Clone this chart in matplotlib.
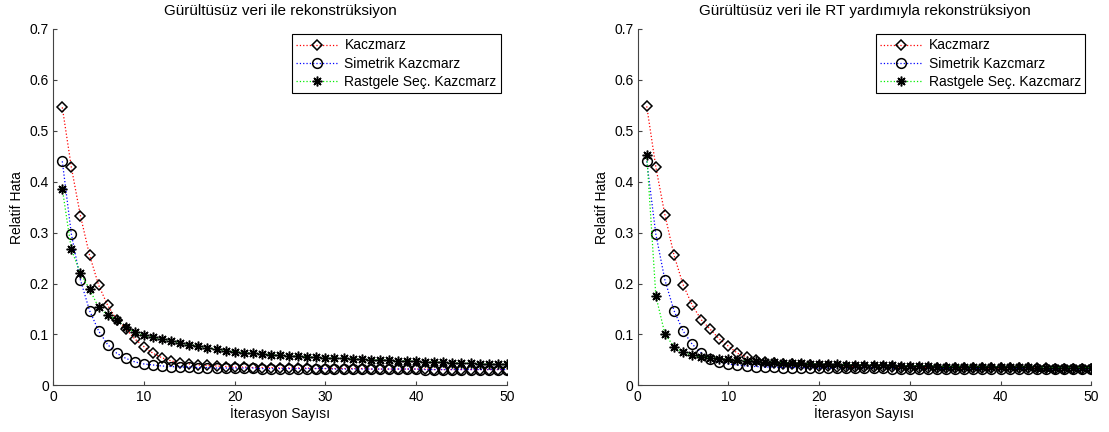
import numpy as np
import matplotlib
matplotlib.use("Agg")
import matplotlib.pyplot as plt

plt.rcParams['font.family'] = ['Liberation Sans', 'DejaVu Sans']
plt.rcParams['font.size'] = 10

iterasyon = np.arange(1, 51)

# sol grafik: gurultusuz veri
kacz_1 = [0.546, 0.428, 0.333, 0.256, 0.197, 0.157, 0.129, 0.111, 0.091, 0.076,
          0.063, 0.054, 0.048, 0.044, 0.042, 0.040, 0.039, 0.038, 0.037, 0.036,
          0.036, 0.035, 0.035, 0.035, 0.034, 0.034, 0.034, 0.034, 0.033, 0.033,
          0.033, 0.033, 0.033, 0.033, 0.032, 0.032, 0.032, 0.032, 0.032, 0.032,
          0.032, 0.031, 0.031, 0.031, 0.031, 0.031, 0.031, 0.031, 0.031, 0.031]
sim_1 = [0.440, 0.297, 0.207, 0.147, 0.107, 0.080, 0.063, 0.053, 0.046, 0.042,
         0.040, 0.038, 0.037, 0.036, 0.036, 0.035, 0.035, 0.034, 0.034, 0.034,
         0.034, 0.034, 0.033, 0.033, 0.033, 0.033, 0.033, 0.033, 0.033, 0.033,
         0.032, 0.032, 0.032, 0.032, 0.032, 0.032, 0.032, 0.032, 0.032, 0.032,
         0.031, 0.031, 0.031, 0.031, 0.031, 0.031, 0.031, 0.031, 0.031, 0.031]
rast_1 = [0.386, 0.267, 0.220, 0.189, 0.153, 0.138, 0.129, 0.114, 0.104, 0.098,
          0.094, 0.091, 0.088, 0.083, 0.080, 0.077, 0.074, 0.071, 0.068, 0.066,
          0.064, 0.063, 0.062, 0.060, 0.059, 0.058, 0.057, 0.056, 0.055, 0.054,
          0.053, 0.053, 0.052, 0.051, 0.050, 0.050, 0.049, 0.048, 0.048, 0.047,
          0.046, 0.046, 0.045, 0.044, 0.044, 0.043, 0.042, 0.042, 0.041, 0.041]

# sag grafik: RT yardimiyla
kacz_2 = [0.548, 0.429, 0.335, 0.256, 0.198, 0.158, 0.129, 0.110, 0.091, 0.077,
          0.063, 0.056, 0.049, 0.046, 0.044, 0.042, 0.041, 0.040, 0.039, 0.038,
          0.038, 0.037, 0.037, 0.037, 0.036, 0.036, 0.036, 0.036, 0.035, 0.035,
          0.035, 0.035, 0.035, 0.035, 0.035, 0.034, 0.034, 0.034, 0.034, 0.034,
          0.034, 0.034, 0.034, 0.034, 0.034, 0.033, 0.033, 0.033, 0.033, 0.033]
sim_2 = [0.440, 0.297, 0.207, 0.147, 0.107, 0.081, 0.064, 0.052, 0.046, 0.042,
         0.040, 0.038, 0.037, 0.036, 0.036, 0.035, 0.035, 0.035, 0.034, 0.034,
         0.034, 0.034, 0.034, 0.034, 0.034, 0.034, 0.034, 0.033, 0.033, 0.033,
         0.033, 0.033, 0.033, 0.033, 0.033, 0.033, 0.033, 0.033, 0.033, 0.033,
         0.033, 0.033, 0.033, 0.033, 0.033, 0.032, 0.032, 0.032, 0.032, 0.032]
rast_2 = [0.453, 0.176, 0.101, 0.076, 0.065, 0.059, 0.056, 0.054, 0.052, 0.051,
          0.049, 0.048, 0.047, 0.046, 0.045, 0.044, 0.043, 0.043, 0.042, 0.042,
          0.041, 0.041, 0.040, 0.040, 0.040, 0.039, 0.039, 0.039, 0.038, 0.038,
          0.038, 0.038, 0.037, 0.037, 0.037, 0.037, 0.037, 0.036, 0.036, 0.036,
          0.036, 0.036, 0.036, 0.035, 0.035, 0.035, 0.035, 0.035, 0.035, 0.035]

etiketler = ["Kaczmarz", "Simetrik Kazcmarz", "Rastgele Seç. Kazcmarz"]
basliklar = ["Gürültüsüz veri ile rekonstrüksiyon",
             "Gürültüsüz veri ile RT yardımıyla rekonstrüksiyon"]


def ciz(ax, k, s, r, baslik):
    ax.plot(iterasyon, k, ':', color='red', lw=0.9, marker='D', ms=5.5,
            mfc='none', mec='black', mew=1.1, label=etiketler[0])
    ax.plot(iterasyon, s, ':', color='blue', lw=0.9, marker='o', ms=7,
            mfc='none', mec='black', mew=1.1, label=etiketler[1])
    ax.plot(iterasyon, r, ':', color='#00ee00', lw=0.9, marker=(8, 2, 0), ms=7,
            mfc='none', mec='black', mew=1.1, label=etiketler[2])
    ax.set_xlim(0, 50)
    ax.set_ylim(0, 0.7)
    ax.set_xticks([0, 10, 20, 30, 40, 50])
    ax.set_yticks([0, 0.1, 0.2, 0.3, 0.4, 0.5, 0.6, 0.7])
    ax.set_yticklabels(['0', '0.1', '0.2', '0.3', '0.4', '0.5', '0.6', '0.7'])
    ax.spines['top'].set_visible(False)
    ax.spines['right'].set_visible(False)
    for sp in ['left', 'bottom']:
        ax.spines[sp].set_color('#444444')
        ax.spines[sp].set_linewidth(0.8)
    ax.tick_params(direction='in', length=3, width=0.8, color='#444444', pad=3)
    ax.set_title(baslik, fontsize=11, pad=10)
    ax.set_xlabel("İterasyon Sayısı", labelpad=1)
    ax.set_ylabel("Relatif Hata", labelpad=4)
    leg = ax.legend(loc='upper right', bbox_to_anchor=(0.987, 0.985),
                    borderaxespad=0, fancybox=False, edgecolor='black',
                    framealpha=1, handlelength=3.0, labelspacing=0.3,
                    borderpad=0.3, handletextpad=0.5, fontsize=10)
    leg.get_frame().set_linewidth(0.8)


fig = plt.figure(figsize=(11.09, 4.32), dpi=100)
ax1 = fig.add_axes([0.048, 0.108, 0.409, 0.825])
ax2 = fig.add_axes([0.575, 0.108, 0.409, 0.825])
ciz(ax1, kacz_1, sim_1, rast_1, basliklar[0])
ciz(ax2, kacz_2, sim_2, rast_2, basliklar[1])

fig.savefig("out.png", dpi=100)
